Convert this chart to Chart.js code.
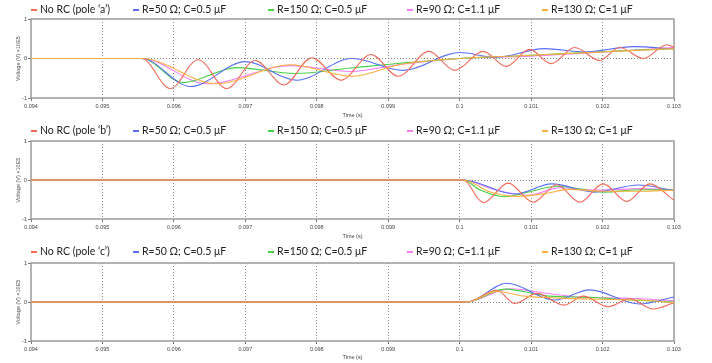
<!DOCTYPE html>
<html>
<head>
<meta charset="utf-8">
<script src="https://cdn.jsdelivr.net/npm/chart.js@4.4.1/dist/chart.umd.min.js"></script>
<style>
  body { margin: 0; background: #fff; width: 712px; height: 363px; overflow: hidden; }
  .panel { position: relative; width: 712px; height: 121px; }
  .panel canvas { position: absolute; left: 0; top: 0; }
  .legend { position: absolute; left: 0; top: 0; width: 712px; height: 20px;
            font-family: Lato, "Open Sans", sans-serif; font-size: 10.5px; color: #222; }
  .legend .item { position: absolute; top: 3px; white-space: nowrap; }
  .legend i { display: inline-block; width: 6px; height: 2px; margin-right: 3px; vertical-align: middle; }
</style>
</head>
<body>
<div class="panel"><canvas id="c0" width="712" height="121"></canvas><div class="legend" id="l0"></div></div>
<div class="panel"><canvas id="c1" width="712" height="121"></canvas><div class="legend" id="l1"></div></div>
<div class="panel"><canvas id="c2" width="712" height="121"></canvas><div class="legend" id="l2"></div></div>
<script>
// labels
const poleLabels = ["No RC (pole \u2018a\u2019)", "No RC (pole \u2018b\u2019)", "No RC (pole \u2018c\u2019)"];
const rcLabels = ["R=50 \u03a9; C=0.5 \u03bcF", "R=150 \u03a9; C=0.5 \u03bcF", "R=90 \u03a9; C=1.1 \u03bcF", "R=130 \u03a9; C=1 \u03bcF"];
const colors = ["#f26a5a", "#5a6ef5", "#46d246", "#f47ef4", "#fbb040"];

// x axis (time, s) and y axis (V x10E5)
const timeMin = 0.094, timeMax = 0.103, timeStep = 0.001;
const voltMin = -1, voltMax = 1;

/* ---- pole 'a' : [time, voltage] ---- */
const redA = [[0.094,0],[0.09555,0],[0.09595,-0.76],[0.09634,-0.03],[0.09674,-0.76],[0.09714,-0.05],
  [0.09754,-0.67],[0.09793,0.02],[0.09834,-0.55],[0.09876,0.1],[0.09914,-0.45],[0.09957,0.18],
  [0.09993,-0.3],[0.10033,0.18],[0.10065,-0.2],[0.10098,0.23],[0.10128,-0.13],[0.10161,0.28],
  [0.10196,-0.05],[0.10224,0.28],[0.10257,0.0],[0.1029,0.35],[0.103,0.28]];
const blueA = [[0.094,0],[0.09555,0],[0.09623,-0.71],[0.097,-0.08],[0.09772,-0.55],[0.09849,0.0],
  [0.09921,-0.3],[0.1,0.15],[0.1005,0.03],[0.10119,0.25],[0.10175,0.17],[0.10243,0.3],[0.103,0.24]];
const greenA = [[0.094,0],[0.09555,0],[0.09613,-0.61],[0.09688,-0.23],[0.0977,-0.38],[0.09847,-0.24],
  [0.09917,-0.12],[0.1,0.0],[0.10084,0.07],[0.10196,0.17],[0.103,0.25]];
const pinkA = [[0.094,0],[0.09555,0],[0.09646,-0.64],[0.09763,-0.18],[0.09847,-0.33],[0.09917,-0.15],
  [0.1,0.0],[0.10084,0.05],[0.10168,0.13],[0.103,0.28]];
const orangeA = [[0.094,0],[0.09555,0],[0.0966,-0.64],[0.09763,-0.16],[0.09849,-0.45],[0.09917,-0.15],
  [0.1,0.0],[0.10084,0.07],[0.10168,0.14],[0.103,0.25]];

/* ---- pole 'b' ---- */
const redB = [[0.094,0],[0.10005,0],[0.10033,-0.58],[0.10068,-0.08],[0.10103,-0.57],[0.10136,-0.12],
  [0.10168,-0.57],[0.10201,-0.1],[0.10234,-0.55],[0.10266,-0.1],[0.103,-0.52]];
const blueB = [[0.094,0],[0.10005,0],[0.10077,-0.36],[0.10129,-0.1],[0.10189,-0.31],[0.1025,-0.13],[0.103,-0.27]];
const greenB = [[0.094,0],[0.10005,0],[0.10028,-0.25],[0.10063,-0.43],[0.10098,-0.3],[0.10136,-0.16],
  [0.10203,-0.31],[0.10252,-0.25],[0.103,-0.25]];
const pinkB = [[0.094,0],[0.10005,0],[0.10049,-0.25],[0.10096,-0.39],[0.1014,-0.2],[0.10196,-0.26],
  [0.10252,-0.22],[0.103,-0.25]];
const orangeB = [[0.094,0],[0.10005,0],[0.10042,-0.3],[0.1008,-0.42],[0.10119,-0.35],[0.10154,-0.24],
  [0.10203,-0.29],[0.10252,-0.29],[0.103,-0.26]];

/* ---- pole 'c' ---- */
const redC = [[0.094,0],[0.1001,0],[0.10052,0.3],[0.10077,-0.04],[0.10108,0.22],[0.10146,-0.08],
  [0.10173,0.15],[0.10208,-0.12],[0.10238,0.08],[0.10271,-0.18],[0.103,-0.02]];
const blueC = [[0.094,0],[0.1001,0],[0.10066,0.48],[0.10133,0.05],[0.10182,0.31],[0.10252,-0.05],[0.103,0.13]];
const greenC = [[0.094,0],[0.1001,0],[0.10063,0.33],[0.10126,0.15],[0.10182,0.12],[0.10238,0.05],[0.103,0.0]];
const pinkC = [[0.094,0],[0.1001,0],[0.1007,0.34],[0.10119,0.23],[0.10173,0.12],[0.10224,0.1],
  [0.10266,0.07],[0.103,0.03]];
const orangeC = [[0.094,0],[0.1001,0],[0.10052,0.27],[0.10091,0.15],[0.1014,0.1],[0.10196,0.07],
  [0.10252,0.05],[0.103,-0.02]];

const panels = [
  { pole: poleLabels[0], series: [redA, blueA, greenA, pinkA, orangeA], top: 19, bottom: 98 },
  { pole: poleLabels[1], series: [redB, blueB, greenB, pinkB, orangeB], top: 20, bottom: 98 },
  { pole: poleLabels[2], series: [redC, blueC, greenC, pinkC, orangeC], top: 21, bottom: 99 }
];

// legend item left edges (px)
const legendLeft = [31, 133, 268, 407, 542];

// frame around the plot area
const framePlugin = {
    id: 'frame',
    beforeDatasetsDraw(chart) {
        const a = chart.chartArea, ctx = chart.ctx;
        ctx.save();
        ctx.strokeStyle = '#9a9a9a';
        ctx.lineWidth = 1.5;
        ctx.strokeRect(a.left, a.top, a.right - a.left, a.bottom - a.top);
        ctx.restore();
    }
};

const tickFont = { family: 'Liberation Sans, Arial, sans-serif', size: 5.5 };

panels.forEach((p, i) => {
    // html legend
    const names = [p.pole].concat(rcLabels);
    const lg = document.getElementById('l' + i);
    names.forEach((n, k) => {
        const s = document.createElement('span');
        s.className = 'item';
        s.style.left = legendLeft[k] + 'px';
        s.innerHTML = '<i style="background:' + colors[k] + '"></i>' + n;
        lg.appendChild(s);
    });

    const canvasH = 121;
    new Chart(document.getElementById('c' + i), {
        type: 'line',
        data: {
            datasets: p.series.map((d, k) => ({
                label: names[k],
                data: d.map(pt => ({ x: pt[0], y: pt[1] })),
                borderColor: colors[k],
                borderWidth: 1.1,
                pointRadius: 0,
                fill: false,
                cubicInterpolationMode: 'monotone',
                order: k === 4 ? -1 : 0
            }))
        },
        options: {
            responsive: false,
            animation: false,
            layout: { padding: { left: 0, right: 38, top: p.top, bottom: 1 } },
            plugins: { legend: { display: false }, tooltip: { enabled: false } },
            scales: {
                x: {
                    type: 'linear',
                    min: timeMin, max: timeMax,
                    afterFit: s => { s.height = canvasH - 1 - p.bottom; },
                    ticks: {
                        stepSize: timeStep, autoSkip: false, maxRotation: 0,
                        font: tickFont, color: '#444', padding: 2,
                        callback: v => String(+v.toFixed(3))
                    },
                    grid: {
                        color: c => (c.tick && c.tick.value > timeMin + 1e-7 && c.tick.value < timeMax - 1e-7) ? '#8a8a8a' : 'rgba(0,0,0,0)',
                        lineWidth: 1, tickLength: 3, tickColor: '#777'
                    },
                    border: { display: false, dash: [1, 2] },
                    title: { display: true, text: 'Time (s)', font: tickFont, color: '#444', padding: { top: 0, bottom: 1.5 } }
                },
                y: {
                    min: voltMin, max: voltMax,
                    afterFit: s => { s.width = 31; },
                    ticks: { stepSize: 1, font: tickFont, color: '#444', padding: 1 },
                    grid: {
                        color: c => (c.tick && c.tick.value === 0) ? '#8a8a8a' : 'rgba(0,0,0,0)',
                        lineWidth: 1, tickLength: 3, tickColor: '#777'
                    },
                    border: { display: false, dash: [1, 2] },
                    title: { display: true, text: 'Voltage (V) \u00d710E5', font: tickFont, color: '#555', padding: { top: 15, bottom: 0 } }
                }
            }
        },
        plugins: [framePlugin]
    });
});
</script>
</body>
</html>
